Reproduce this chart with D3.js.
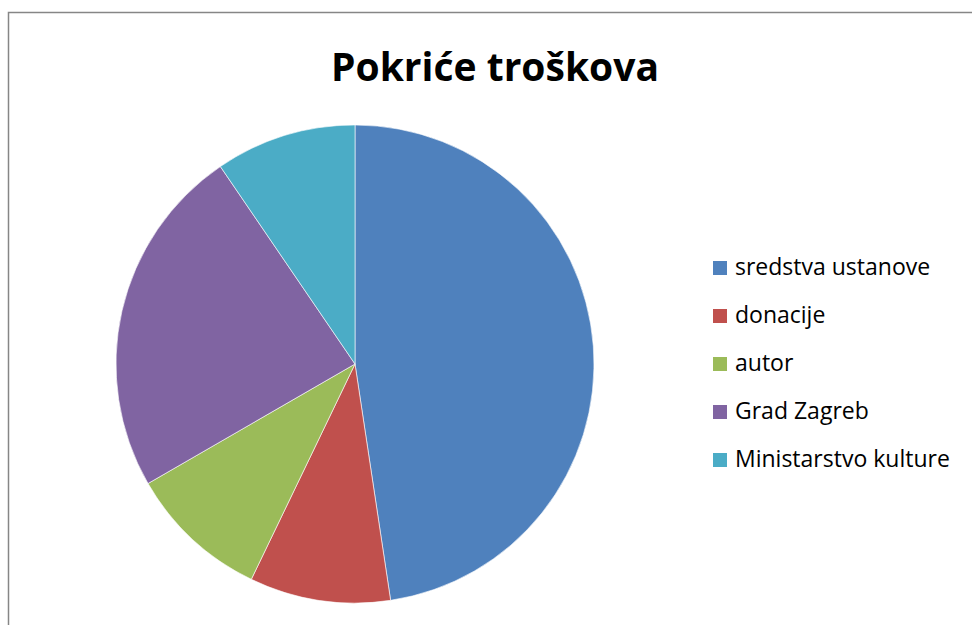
<!DOCTYPE html>
<html><head><meta charset="utf-8">
<script src="https://cdn.jsdelivr.net/npm/d3@7"></script>
<style>body{margin:0;background:#fff}svg{display:block}</style>
</head><body>
<svg id="chart" width="972" height="625"></svg>
<script>
const title = "Pokriće troškova";
const categories = ["sredstva ustanove", "donacije", "autor", "Grad Zagreb", "Ministarstvo kulture"];
const values = [5, 1, 1, 2.5, 1];
const colors = ["#4F81BD", "#C0504D", "#9BBB59", "#8064A2", "#4BACC6"];

const svg = d3.select("#chart");
svg.append("rect").attr("x", 8.5).attr("y", 12.5).attr("width", 970).attr("height", 620)
  .attr("fill", "#fff").attr("stroke", "#868686").attr("stroke-width", 1.5);

svg.append("text").attr("x", 495).attr("y", 81).attr("text-anchor", "middle")
  .attr("font-family", "'Open Sans', sans-serif").attr("font-weight", "bold")
  .attr("font-size", 39).attr("fill", "#000").text(title);

const cx = 355, cy = 364, r = 239;
const color = d3.scaleOrdinal().domain(categories).range(colors);
const pie = d3.pie().sort(null).value(d => d.v);
const data = categories.map((c, i) => ({c, v: values[i]}));
const arc = d3.arc().innerRadius(0).outerRadius(r);
svg.append("g").attr("transform", `translate(${cx},${cy})`)
  .selectAll("path").data(pie(data)).join("path")
  .attr("d", arc).attr("fill", d => color(d.data.c))
  .attr("stroke", "#fff").attr("stroke-width", 0.6);

const ly = d3.scalePoint().domain(categories).range([275, 467]);
const lg = svg.append("g");
categories.forEach(c => {
  lg.append("rect").attr("x", 713).attr("y", ly(c) - 14).attr("width", 14).attr("height", 14).attr("fill", color(c));
  lg.append("text").attr("x", 735).attr("y", ly(c)).attr("font-family", "'Open Sans', sans-serif")
    .attr("font-size", 23).attr("fill", "#000").text(c);
});
</script>
</body></html>
